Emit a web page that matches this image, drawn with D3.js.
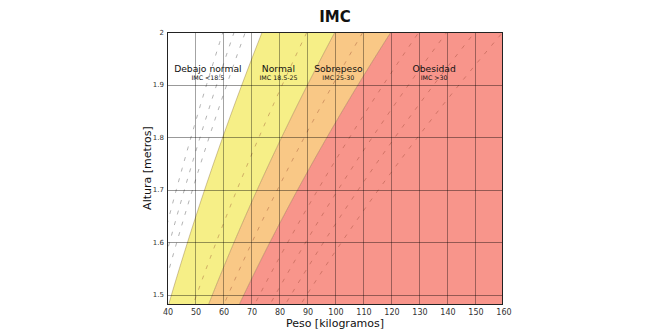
<!DOCTYPE html>
<html><head><meta charset="utf-8">
<script src="https://cdn.jsdelivr.net/npm/d3@7"></script>
<style>body{margin:0;background:#fff}svg{display:block;font-family:"DejaVu Sans",sans-serif}</style>
</head><body><svg id="c" width="660" height="330"></svg>
<script>
// Data
const xTicks = [40,50,60,70,80,90,100,110,120,130,140,150,160];
const yTicks = [1.5,1.6,1.7,1.8,1.9,2.0];
const yTickLabels = ["1.5","1.6","1.7","1.8","1.9","2"];
const categories = ["Debajo normal","Normal","Sobrepeso","Obesidad"];
const subLabels = ["IMC <18.5","IMC 18.5-25","IMC 25-30","IMC >30"];
const bmiLower = [0,18.5,25,30];
const bmiUpper = [18.5,25,30,100];
const labelCenters = [54.6,79.8,101.2,135.4]; // label centre, kg
const regionColors = ["#ffffff","#f6ef87","#f9c886","#f8958b"];
const greyDashBmi = [15,16,17];
const darkDashBmi = [22.5,27.5,32.5,35,37.5,40];

const svg = d3.select("#c");
const x = d3.scaleLinear().domain([40,160]).range([167,503]);
const y = d3.scaleLinear().domain([1.481,2.0]).range([304.5,32]);
const hs = d3.range(1.45,2.0501,0.01);

svg.append("defs").append("clipPath").attr("id","clip")
  .append("rect").attr("x",167).attr("y",32).attr("width",336).attr("height",272.5);
const g = svg.append("g").attr("clip-path","url(#clip)");

// regions
bmiLower.forEach((lo,i)=>{
  const hi = bmiUpper[i];
  const ar = d3.area()
    .y(h=>y(h))
    .x0(h=>x(Math.max(20,lo*h*h)))
    .x1(h=>x(Math.min(200,hi*h*h)));
  g.append("path").datum(hs).attr("d",ar).attr("fill",regionColors[i]);
});
const line = b => d3.line().x(h=>x(b*h*h)).y(h=>y(h))(hs);
[18.5,25,30].forEach(b=>{
  g.append("path").attr("d",line(b)).attr("fill","none")
   .attr("stroke","rgba(120,90,40,0.5)").attr("stroke-width",0.7);
});
greyDashBmi.forEach(b=>{
  g.append("path").attr("d",line(b)).attr("fill","none")
   .attr("stroke","#a0a0a0").attr("stroke-width",0.8).attr("stroke-dasharray","4,7");
});
darkDashBmi.forEach(b=>{
  g.append("path").attr("d",line(b)).attr("fill","none")
   .attr("stroke","rgba(140,60,40,0.45)").attr("stroke-width",0.8).attr("stroke-dasharray","4,7");
});

// grid
g.selectAll(".vg").data(xTicks).join("line")
  .attr("x1",d=>x(d)+0.5).attr("x2",d=>x(d)+0.5).attr("y1",32).attr("y2",305)
  .attr("stroke","rgba(0,0,0,0.36)").attr("stroke-width",1);
g.selectAll(".hg").data(yTicks).join("line")
  .attr("y1",d=>Math.round(y(d))+0.5).attr("y2",d=>Math.round(y(d))+0.5).attr("x1",167).attr("x2",503)
  .attr("stroke","rgba(0,0,0,0.4)").attr("stroke-width",1);

// frame
svg.append("rect").attr("x",167.5).attr("y",32.5).attr("width",335).attr("height",272)
  .attr("fill","none").attr("stroke","#222").attr("stroke-width",1);

// tick labels
svg.append("g").selectAll("text").data(xTicks).join("text")
  .attr("x",d=>x(d)+1).attr("y",315).attr("text-anchor","middle")
  .attr("font-size",8).attr("fill","#333").text(d=>d);
svg.append("g").selectAll("text").data(yTicks).join("text")
  .attr("x",164).attr("y",d=>y(d)+2.5).attr("text-anchor","end")
  .attr("font-size",7).attr("fill","#333").text((d,i)=>yTickLabels[i]);

// region labels
categories.forEach((c,i)=>{
  const cx = x(labelCenters[i]);
  svg.append("text").attr("x",cx).attr("y",72).attr("text-anchor","middle")
    .attr("font-size",9.2).attr("fill","#111").text(c);
  svg.append("text").attr("x",cx).attr("y",79.5).attr("text-anchor","middle")
    .attr("font-size",6.3).attr("fill","#111").text(subLabels[i]);
});

svg.append("text").attr("x",335).attr("y",22).attr("text-anchor","middle")
  .attr("font-size",15).attr("font-weight","bold").attr("fill","#111").text("IMC");
svg.append("text").attr("x",335).attr("y",327).attr("text-anchor","middle")
  .attr("font-size",11).attr("fill","#111").text("Peso [kilogramos]");
svg.append("text").attr("transform","translate(151,168) rotate(-90)").attr("text-anchor","middle")
  .attr("font-size",11).attr("fill","#111").text("Altura [metros]");
</script></body></html>
